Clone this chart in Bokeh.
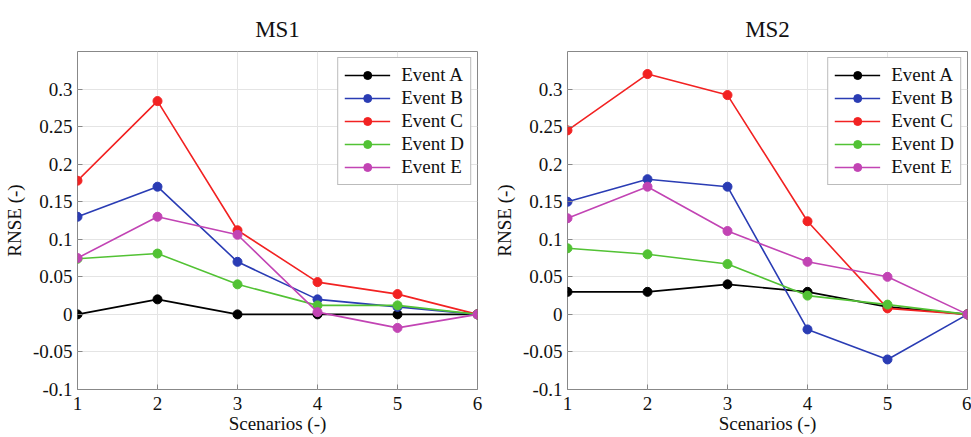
from bokeh.plotting import figure
from bokeh.layouts import row
from bokeh.models import FixedTicker, Legend, LegendItem, Range1d
from bokeh.embed import file_html
from bokeh.resources import INLINE

scenarios = [1, 2, 3, 4, 5, 6]
events = ["Event A", "Event B", "Event C", "Event D", "Event E"]
colors = ["#000000", "#2a3cb4", "#f22222", "#52c234", "#c244b4"]

ms1_a = [0.0, 0.02, 0.0, 0.0, 0.0, 0.0]
ms1_b = [0.13, 0.17, 0.07, 0.02, 0.01, 0.0]
ms1_c = [0.178, 0.284, 0.112, 0.043, 0.027, 0.0]
ms1_d = [0.074, 0.081, 0.04, 0.012, 0.012, 0.0]
ms1_e = [0.075, 0.13, 0.106, 0.003, -0.018, 0.0]

ms2_a = [0.03, 0.03, 0.04, 0.03, 0.01, 0.0]
ms2_b = [0.15, 0.18, 0.17, -0.02, -0.06, 0.0]
ms2_c = [0.245, 0.32, 0.292, 0.124, 0.008, 0.0]
ms2_d = [0.088, 0.08, 0.067, 0.025, 0.013, 0.0]
ms2_e = [0.128, 0.17, 0.111, 0.07, 0.05, 0.0]

y_ticks = [-0.1, -0.05, 0, 0.05, 0.1, 0.15, 0.2, 0.25, 0.3]
y_tick_labels = ["-0.1", "-0.05", "0", "0.05", "0.1", "0.15", "0.2", "0.25", "0.3"]

FONT = "'Liberation Serif', 'DejaVu Serif', serif"


def panel(title, series, left, right, width):
    p = figure(width=width, height=437, output_backend="svg", toolbar_location=None,
               x_range=Range1d(1, 6), y_range=Range1d(-0.1, 0.35),
               min_border_left=left, min_border_right=right,
               min_border_top=51, min_border_bottom=48)
    p.title.text = title
    p.title.align = "center"
    p.title.text_font = FONT
    p.title.text_font_size = "23px"
    p.title.text_font_style = "normal"
    p.title.text_color = "#111111"
    p.title.standoff = 20

    p.outline_line_color = "#888888"
    p.outline_line_width = 1
    p.background_fill_color = "white"
    p.border_fill_color = "white"

    for ax in (p.xaxis[0], p.yaxis[0]):
        ax.axis_line_color = None
        ax.major_tick_in = 5
        ax.major_tick_out = 0
        ax.minor_tick_line_color = None
        ax.major_tick_line_color = "#888888"
        ax.major_label_text_font = FONT
        ax.major_label_text_font_size = "19px"
        ax.major_label_text_color = "#111111"
        ax.axis_label_text_font = FONT
        ax.axis_label_text_font_size = "19px"
        ax.axis_label_text_font_style = "normal"
        ax.axis_label_text_color = "#111111"

    p.xaxis.ticker = FixedTicker(ticks=scenarios)
    p.yaxis.ticker = FixedTicker(ticks=y_ticks)
    p.yaxis.major_label_overrides = {t: s for t, s in zip(y_ticks, y_tick_labels)}
    p.xaxis.axis_label = "Scenarios (-)"
    p.yaxis.axis_label = "RNSE (-)"
    p.xaxis.axis_label_standoff = 0
    p.yaxis.axis_label_standoff = 5
    p.xaxis.major_label_standoff = 7
    p.yaxis.major_label_standoff = 5

    p.xgrid.grid_line_color = "#e4e4e4"
    p.ygrid.grid_line_color = "#e4e4e4"

    items = []
    for name, ys, c in zip(events, series, colors):
        ln = p.line(scenarios, ys, line_color=c, line_width=1.6)
        sc = p.scatter(scenarios, ys, size=9, fill_color=c, line_color=c)
        items.append(LegendItem(label=name, renderers=[ln, sc]))

    leg = Legend(items=items, location="top_right")
    leg.label_text_font = FONT
    leg.label_text_font_size = "19px"
    leg.label_text_color = "#111111"
    leg.glyph_width = 46
    leg.glyph_height = 20
    leg.label_height = 20
    leg.label_standoff = 11
    leg.spacing = 1
    leg.padding = 6
    leg.margin = 6
    leg.border_line_color = "#777777"
    leg.border_line_width = 1.5
    leg.background_fill_alpha = 1
    p.add_layout(leg)
    return p


p1 = panel("MS1", [ms1_a, ms1_b, ms1_c, ms1_d, ms1_e], 77, 13, 490)
p2 = panel("MS2", [ms2_a, ms2_b, ms2_c, ms2_d, ms2_e], 77, 4, 481)

layout = row(p1, p2)
open("out.html", "w").write(file_html(layout, INLINE))
